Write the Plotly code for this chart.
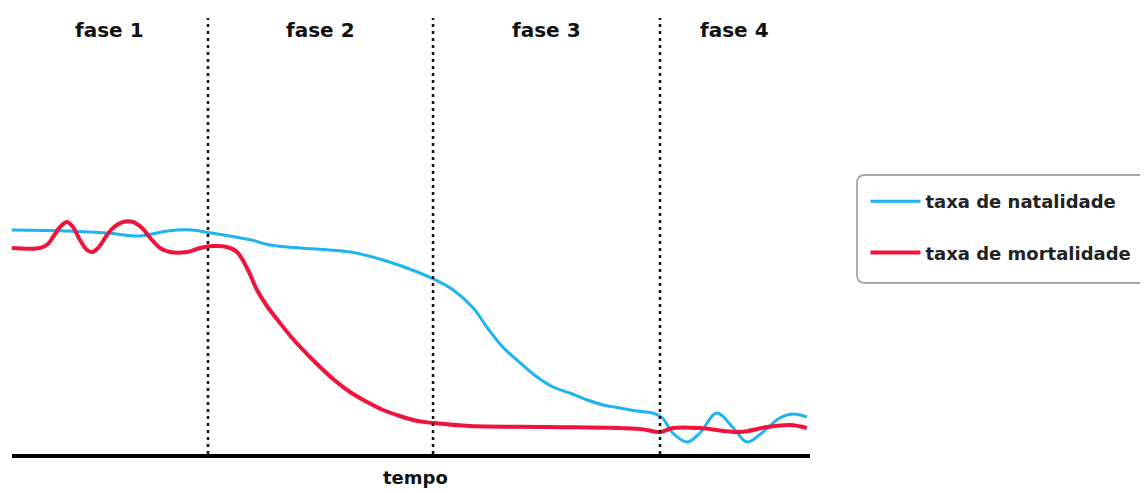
import plotly.graph_objects as go

# ---- data (tempo 0-100, taxa in arbitrary rate units) ----
tempo_natalidade = [0, 7.0, 12.0, 16.0, 19.5, 22.5, 25.0, 28.0, 30.0, 32.3, 36.1, 39.8,
                    42.4, 46.5, 50.8, 52.8, 55.3, 57.8, 59.5, 61.5, 63.7, 65.8, 67.8, 69.9, 72.1,
                    74.1, 76.2, 78.3, 80.3, 81.5, 82.8, 84.6, 86.2, 88.3, 90.4, 92.1, 94.1, 96.2,
                    97.9, 99.6]
taxa_natalidade = [45.4, 45.2, 44.8, 44.2, 45.2, 45.4, 44.8, 44.0, 43.4, 42.4, 41.8, 41.4,
                   41.0, 39.4, 37.0, 35.6, 33.4, 29.8, 26.0, 22.0, 18.8, 16.0, 14.0, 12.8, 11.4,
                   10.4, 9.8, 9.2, 8.8, 7.8, 4.8, 3.0, 4.8, 8.8, 5.8, 3.0, 5.0, 7.8,
                   8.6, 8.0]

tempo_mortalidade = [0, 3.51, 4.51, 5.14, 6.02, 6.89, 7.64, 8.52, 9.40, 10.03, 10.78, 11.90, 12.66,
                     13.91, 15.16, 16.29, 17.54, 18.55, 19.80, 21.93, 23.56, 25.19, 26.94, 28.20,
                     29.57, 30.70, 31.95, 33.58, 35.21, 37.34, 40.23, 42.36, 44.5, 46.5, 48.6, 50.8,
                     52.8, 57.4, 67.4, 78.7, 81.2, 82.8, 86.2, 91.2, 94.6, 97.5, 99.6]
taxa_mortalidade = [41.8, 41.8, 42.6, 44.0, 46.0, 47.0, 46.0, 43.4, 41.4, 41.0, 41.8, 44.4, 45.8,
                    47.0, 47.0, 45.8, 43.4, 41.8, 41.0, 41.0, 41.8, 42.2, 42.0, 41.0,
                    37.4, 33.4, 30.2, 26.8, 23.6, 20.0, 15.6, 13.0, 11.0, 9.4, 8.2, 7.2,
                    6.8, 6.2, 6.0, 5.6, 5.0, 5.8, 5.8, 5.0, 6.0, 6.4, 5.8]

limites_fases = [0, 24.56, 52.76, 81.2, 100]
rotulos_fases = ["fase 1", "fase 2", "fase 3", "fase 4"]

COR_NAT = "#1EB4F0"
COR_MORT = "#F0143C"
FONT = "DejaVu Sans"

W, H = 1140, 485
ML, MR, MT, MB = 4, 338, 0, 39
PH = H - MT - MB  # plot height in px

def py(fig_y):
    """figure pixel (from top) -> paper y"""
    return (PH - fig_y) / PH

fig = go.Figure()
fig.add_trace(go.Scatter(x=tempo_natalidade, y=taxa_natalidade, mode="lines",
                         name="taxa de natalidade", legendgroup="a",
                         line=dict(color=COR_NAT, width=3, shape="spline", smoothing=1.0)))
fig.add_trace(go.Scatter(x=tempo_mortalidade, y=taxa_mortalidade, mode="lines",
                         name="taxa de mortalidade", legendgroup="b",
                         line=dict(color=COR_MORT, width=4, shape="spline", smoothing=1.0)))

Y_MIN, Y_MAX = 0.6, 89.8

shapes = []
for b in limites_fases[1:-1]:
    shapes.append(dict(type="line", xref="x", yref="y", x0=b, x1=b, y0=Y_MIN, y1=87.8,
                       line=dict(color="#111", width=2.5, dash="3px,4px")))

# legend frame (rounded left corners)
x0, x1 = 1.0589, 1.45
y0, y1 = py(275), py(167)
rx, ry = 8 / 798, 8 / PH
path = (f"M {x1},{y1} L {x0+rx},{y1} Q {x0},{y1} {x0},{y1-ry} "
        f"L {x0},{y0+ry} Q {x0},{y0} {x0+rx},{y0} L {x1},{y0}")
shapes.append(dict(type="path", xref="paper", yref="paper", path=path,
                   line=dict(color="#A8A8A8", width=1.8)))

annotations = []
for i, lab in enumerate(rotulos_fases):
    cx = (limites_fases[i] + limites_fases[i + 1]) / 2
    annotations.append(dict(text=lab, x=cx, xref="x", y=py(22), yref="paper", yanchor="middle",
                            showarrow=False,
                            font=dict(family=FONT, size=20, color="#111", weight="bold")))

annotations.append(dict(text="tempo", x=50.6, xref="x", y=py(470), yref="paper",
                        yanchor="middle", showarrow=False,
                        font=dict(family=FONT, size=18, color="#111", weight="bold")))

fig.update_layout(
    width=W, height=H, autosize=False,
    margin=dict(l=ML, r=MR, t=MT, b=MB),
    paper_bgcolor="white", plot_bgcolor="white",
    xaxis=dict(range=[0, 100], showgrid=False, zeroline=False, showticklabels=False,
               ticks="", showline=True, linecolor="#000", linewidth=4),
    yaxis=dict(range=[Y_MIN, Y_MAX], showgrid=False, zeroline=False, showticklabels=False,
               ticks="", showline=False),
    shapes=shapes, annotations=annotations,
    showlegend=True,
    legend=dict(x=1.0695, xanchor="left", y=py(175), yanchor="top",
                bgcolor="rgba(0,0,0,0)", borderwidth=0, tracegroupgap=25,
                itemwidth=50,
                font=dict(family=FONT, size=18, color="#222", weight="bold")),
)

fig.write_html("out.html")
